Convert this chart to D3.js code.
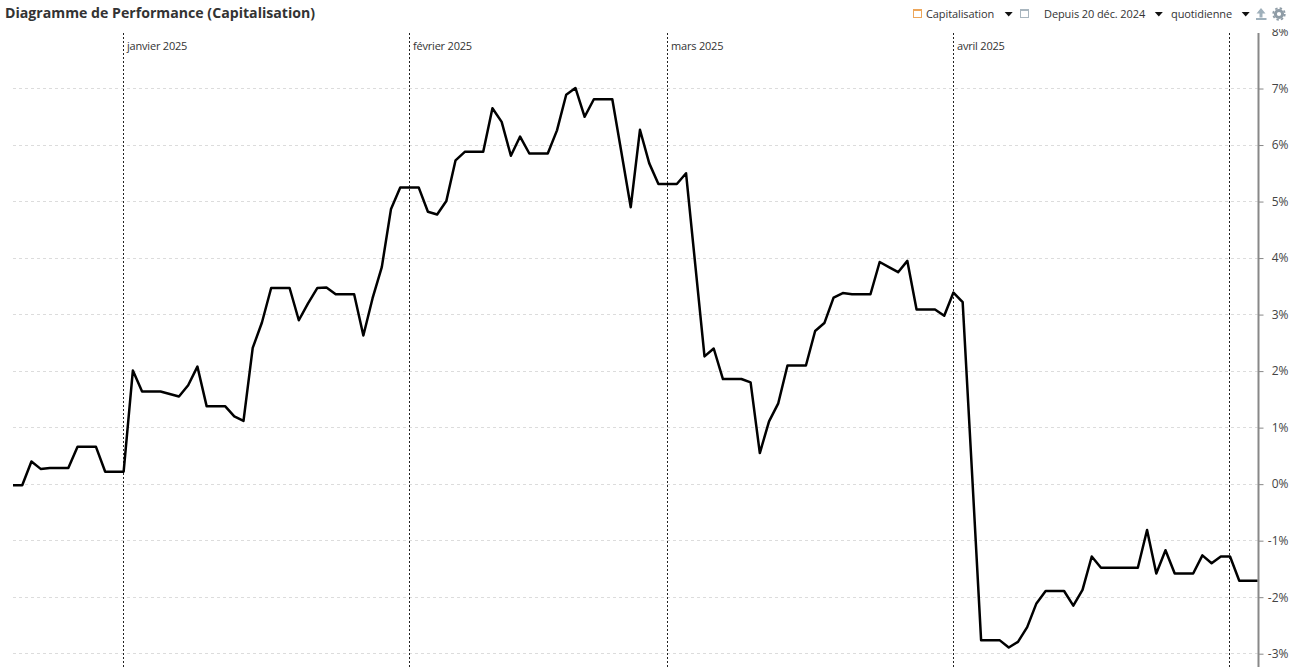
<!DOCTYPE html>
<html lang="fr"><head><meta charset="utf-8">
<script src="https://cdnjs.cloudflare.com/ajax/libs/d3/7.8.5/d3.min.js"></script>
<style>html,body{margin:0;padding:0;background:#fff;overflow:hidden}svg{display:block}text{font-family:"Open Sans",sans-serif}</style>
</head><body><svg id="c" width="1292" height="667"></svg>
<script>
const startDate = "2024-12-20";
const values = [-0.02,-0.02,0.40,0.27,0.285,0.285,0.285,0.66,0.66,0.66,0.22,0.22,0.22,
2.01,1.64,1.64,1.64,1.595,1.55,1.75,2.08,1.38,1.38,1.38,1.20,1.12,2.41,2.86,3.47,3.47,3.47,
2.90,3.20,3.47,3.48,3.36,3.36,3.36,2.63,3.29,3.84,4.87,5.25,5.25,
5.25,4.82,4.77,5.01,5.73,5.88,5.88,5.88,6.65,6.41,5.81,6.15,5.85,5.85,5.85,6.26,6.89,7.01,6.50,6.81,6.81,6.81,5.86,4.90,6.27,5.68,5.31,5.31,
5.31,5.50,3.88,2.26,2.40,1.86,1.86,1.86,1.80,0.55,1.11,1.43,2.10,2.10,2.10,2.71,2.85,3.30,3.38,3.36,3.36,3.36,3.93,3.84,3.75,3.95,3.09,3.09,3.09,2.98,3.39,
3.22,0.25,-2.76,-2.76,-2.76,-2.89,-2.79,-2.53,-2.11,-1.89,-1.89,-1.89,-2.15,-1.87,-1.28,-1.48,-1.48,-1.48,-1.48,-1.48,-0.81,-1.58,-1.17,-1.58,-1.58,-1.58,-1.26,-1.40,-1.28,-1.28,-1.71,-1.71,-1.71];
const monthDates = ["2025-01-01","2025-02-01","2025-03-01","2025-04-01","2025-05-01"];
const monthLabels = ["janvier 2025","février 2025","mars 2025","avril 2025",""];
const yTicks = [8,7,6,5,4,3,2,1,0,-1,-2,-3];
const titleText = "Diagramme de Performance (Capitalisation)";
const controlLabels = ["Capitalisation","Depuis 20 déc. 2024","quotidienne"];

const parse = d3.timeParse("%Y-%m-%d");
const t0 = parse(startDate);
const series = values.map((v,i)=>({date:d3.timeDay.offset(t0,i),v}));
const svg = d3.select("#c");
const x = d3.scaleTime().domain([t0,series[series.length-1].date]).range([13,1257.7]);
const y = d3.scaleLinear().domain([8,-3]).range([32,653.7]);
const plotTop = 33, plotBottom = 667;
const snapX = d => Math.floor(x(d)-0.3);

svg.append("defs").append("clipPath").attr("id","plot").append("rect")
  .attr("x",0).attr("y",plotTop-4).attr("width",1292).attr("height",plotBottom-plotTop+4);

// grid
svg.append("g").selectAll("line").data(yTicks.filter(d=>d!==8)).join("line")
  .attr("x1",x.range()[0]).attr("x2",x.range()[1]).attr("y1",d=>Math.floor(y(d))+.5).attr("y2",d=>Math.floor(y(d))+.5)
  .attr("stroke","#dcdcdc").attr("stroke-dasharray","3 3");

// month lines
const months = monthDates.map((d,i)=>({date:parse(d),label:monthLabels[i]}));
const mg = svg.append("g").selectAll("g").data(months).join("g");
mg.append("line").attr("x1",d=>snapX(d.date)+.5).attr("x2",d=>snapX(d.date)+.5)
  .attr("y1",plotTop).attr("y2",plotBottom).attr("stroke","#222").attr("stroke-dasharray","2 2");
mg.append("text").attr("x",d=>snapX(d.date)+4).attr("y",50).attr("font-size",11).attr("letter-spacing",-0.2).attr("fill","#333").text(d=>d.label);

// line
svg.append("path").datum(series)
  .attr("d",d3.line().x(d=>x(d.date)).y(d=>y(d.v)))
  .attr("fill","none").attr("stroke","#000").attr("stroke-width",2.5).attr("stroke-linejoin","round");

// axis
const axis = d3.axisRight(y).tickValues(yTicks).tickSize(5).tickFormat(d=>d+"%");
const ag = svg.append("g").attr("transform","translate(1258.5,0)").attr("clip-path","url(#plot)").call(axis);
ag.select(".domain").remove();
ag.selectAll(".tick line").attr("stroke","#888").attr("opacity",d=>d===8?0:1);
ag.selectAll(".tick text").attr("x",30).attr("text-anchor","end").attr("font-size",12).attr("fill","#444").attr("font-family",'"Open Sans",sans-serif');
svg.append("line").attr("x1",1258.5).attr("x2",1258.5).attr("y1",plotTop).attr("y2",plotBottom).attr("stroke","#888").attr("stroke-width",2);

// header
svg.append("text").attr("x",5).attr("y",18).attr("font-size",14.15).attr("font-weight",700).attr("fill","#333").text(titleText);
const ctl = svg.append("g");
[[926,controlLabels[0]],[1044,controlLabels[1]],[1171,controlLabels[2]]].forEach(([px,t])=>ctl.append("text").attr("x",px).attr("y",18).attr("font-size",11).attr("letter-spacing",-0.1).attr("fill","#333").text(t));
[1008.7,1158.8,1245.7].forEach(px=>svg.append("path").attr("d",`M${px-4},12 h8 l-4,4.5 z`).attr("fill","#111"));
// orange series icon
svg.append("rect").attr("x",913.5).attr("y",9.5).attr("width",8).attr("height",8).attr("fill","#fff").attr("stroke","#eda65a");
svg.append("rect").attr("x",913).attr("y",9).attr("width",9).attr("height",2).attr("fill","#eda65a");
// grey series icon
svg.append("rect").attr("x",1020.5).attr("y",9.5).attr("width",8).attr("height",8).attr("fill","#fff").attr("stroke","#a9b6bf");
svg.append("rect").attr("x",1020).attr("y",9).attr("width",9).attr("height",2).attr("fill","#a9b6bf");
// upload icon
svg.append("path").attr("d","M1261,8 l4.5,5.5 h-3 v4 h-3 v-4 h-3 z M1256,18 h10.5 v2 h-10.5 z").attr("fill","#9fb0bb");
// gear icon
svg.append("circle").attr("cx",1279).attr("cy",14).attr("r",3.6).attr("fill","none").attr("stroke","#8f9ca6").attr("stroke-width",3);
svg.append("circle").attr("cx",1279).attr("cy",14).attr("r",5.8).attr("fill","none").attr("stroke","#8f9ca6").attr("stroke-width",1.8).attr("stroke-dasharray","2.4 2.15");
</script></body></html>
